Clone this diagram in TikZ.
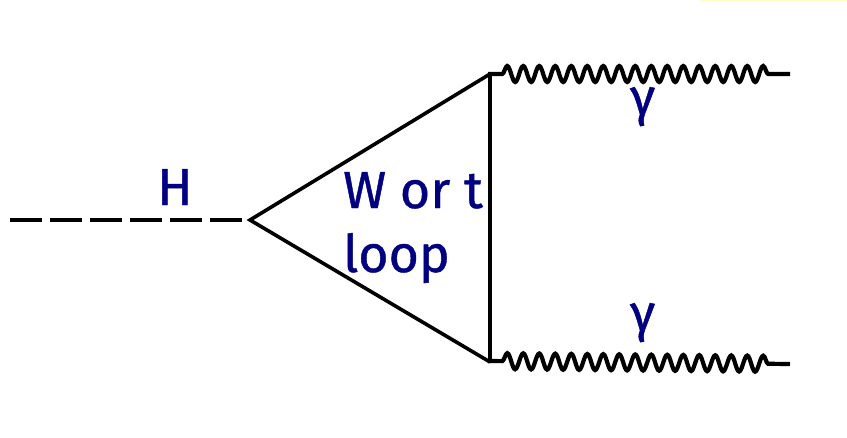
\documentclass[tikz,border=0pt]{standalone}
\usepackage{fontspec}
\newfontfamily\lblfont{Fira Sans}[FakeBold=0.8]
\usetikzlibrary{decorations.pathmorphing}
\definecolor{lbl}{RGB}{0,0,128}
\definecolor{paleyellow}{RGB}{255,255,205}
\begin{document}
\begin{tikzpicture}[x=1pt,y=-1pt,
  line/.style={line width=3.6pt,line join=miter},
  higgs/.style={line width=4.5pt,dash pattern=on 32pt off 8pt},
  photon/.style={line width=4.2pt,decorate,decoration={snake,amplitude=8pt,segment length=16pt,pre length=14pt,post length=16pt}},
  lab/.style={text=lbl,font=\lblfont\fontsize{52}{56}\selectfont,inner sep=0pt,anchor=base west}]
\useasboundingbox (0,0) rectangle (847,437);
\fill[paleyellow] (700,0) rectangle (847,2);
\coordinate (hin) at (10,220);
\coordinate (v) at (250,220);
\coordinate (t) at (490,74);
\coordinate (b) at (490,362);
\coordinate (tout) at (790,74);
\coordinate (bout) at (790,364);
\draw[higgs] (hin) -- (v);
\draw[line] (t) -- (v) -- (b);
\draw[line] ([yshift=-1.5pt]t) -- ([yshift=1.5pt]b);
\draw[photon] ([xshift=-1.8pt]t) -- (tout);
\draw[photon] ([xshift=-1.8pt,yshift=1pt]b) -- (bout);
\node[lab] (hl) at (157,205) {H};
\node[lab] (w) at (343,208) {W or t};
\node[lab] (lp) at (343,272) {loop};
\node[lab] (g1) at (630,115) {γ};
\node[lab] (g2) at (630,331) {γ};
\end{tikzpicture}
\end{document}
